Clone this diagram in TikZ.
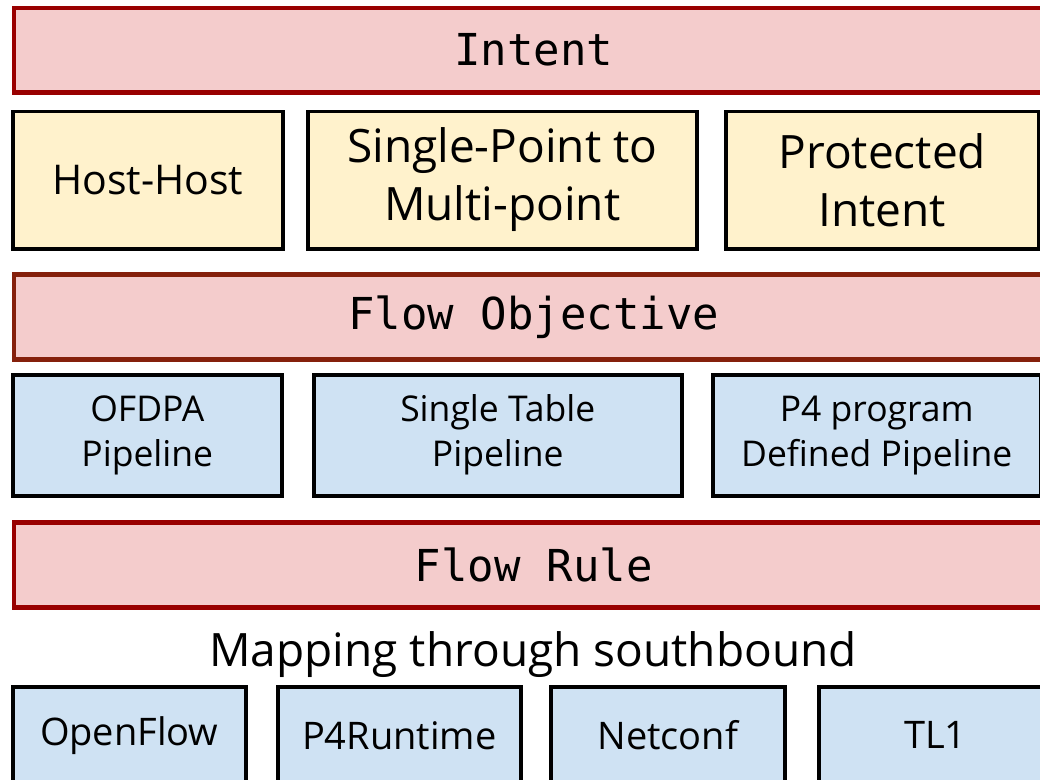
\documentclass[tikz,border=0pt]{standalone}
\usepackage{fontspec}
\setmainfont{Open Sans}
\setmonofont{DejaVu Sans Mono}
\definecolor{barfill}{HTML}{F4CCCC}
\definecolor{barline}{HTML}{990000}
\definecolor{objline}{HTML}{85200C}
\definecolor{intentfill}{HTML}{FFF2CC}
\definecolor{pipefill}{HTML}{CFE2F3}

\begin{document}
\begin{tikzpicture}[x=1pt,y=-1pt]
  \tikzstyle{layer} = [rectangle,anchor=north west,inner sep=0pt,
  fill=barfill,draw=barline,line width=4.5pt,
  font=\fontsize{44}{50}\selectfont\ttfamily]
  \tikzstyle{box} = [rectangle,anchor=north west,inner sep=0pt,
  draw=black,line width=3.5pt,align=center]
  \tikzstyle{ibox} = [box,fill=intentfill]
  \tikzstyle{pbox} = [box,fill=pipefill]

  \clip (0,0) rectangle (1040,779);

  \node[layer,minimum width=1040pt,minimum height=84.5pt] (intent)
  at (11.5,5.5) {Intent};

  \node[ibox,minimum width=270pt,minimum height=137.5pt,
  font=\fontsize{41}{58}\selectfont] (hosthost) at (11,109.5) {Host-Host};
  \node[ibox,minimum width=389pt,minimum height=137.5pt,
  font=\fontsize{46}{58}\selectfont] (sp2mp) at (306,109.5)
  {Single-Point to\\Multi-point};
  \node[ibox,minimum width=313pt,minimum height=137.5pt,
  font=\fontsize{46}{58}\selectfont] (protected) at (724,109.5)
  {Protected\\Intent};

  \node[layer,draw=objline,minimum width=1040pt,minimum height=85pt]
  (flowobj) at (11.5,272) {Flow Objective};

  \node[pbox,minimum width=269pt,minimum height=121pt,
  font=\fontsize{35.5}{45}\selectfont] (ofdpa) at (11,373) {OFDPA\\Pipeline};
  \node[pbox,minimum width=368pt,minimum height=121pt,
  font=\fontsize{35.5}{45}\selectfont] (single) at (312,373)
  {Single Table\\Pipeline};
  \node[pbox,minimum width=328pt,minimum height=121pt,
  font=\fontsize{35.5}{45}\selectfont] (p4prog) at (711,373)
  {P4 program\\Defined Pipeline};

  \node[layer,minimum width=1040pt,minimum height=85pt] (flowrule)
  at (11.5,520) {Flow Rule};

  \node[font=\fontsize{46}{50}\selectfont] (mapping) at (533,655)
  {Mapping through southbound};

  \node[pbox,minimum width=233pt,minimum height=97pt,
  font=\fontsize{38}{44}\selectfont] (openflow) at (11,685) {OpenFlow};
  \node[pbox,minimum width=243pt,minimum height=97pt,
  font=\fontsize{38}{44}\selectfont] (p4rt) at (276,685) {P4Runtime};
  \node[pbox,minimum width=234pt,minimum height=97pt,
  font=\fontsize{38}{44}\selectfont] (netconf) at (549,685) {Netconf};
  \node[pbox,minimum width=233pt,minimum height=97pt,
  font=\fontsize{38}{44}\selectfont] (tl1) at (817,685) {TL1};

\end{tikzpicture}
\end{document}
